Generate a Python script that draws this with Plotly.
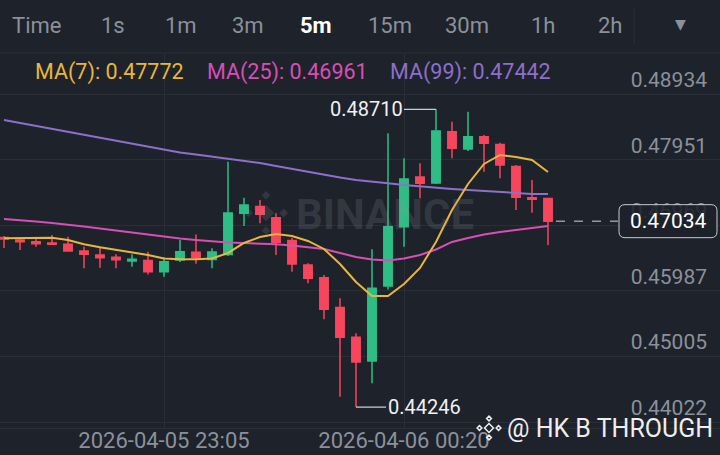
import plotly.graph_objects as go
import pandas as pd

# ---------------- data ----------------
times = pd.date_range("2026-04-05 22:15", periods=35, freq="5min")

opens = [0.46789, 0.46752, 0.46726, 0.46707, 0.46687, 0.46587, 0.46527, 0.46492, 0.46437, 0.46444,
         0.46276, 0.46452, 0.46567, 0.46459, 0.46534, 0.47152, 0.47254, 0.47086, 0.46744, 0.46377,
         0.46186, 0.45740, 0.45293, 0.44937, 0.46062, 0.46951, 0.47696, 0.47606, 0.48375, 0.48116,
         0.48300, 0.48183, 0.47854, 0.47386, 0.47374]
highs = [0.46812, 0.46777, 0.46786, 0.46827, 0.46801, 0.46651, 0.46651, 0.46537, 0.46537, 0.46576,
         0.46492, 0.46752, 0.46834, 0.46627, 0.47925, 0.47386, 0.47351, 0.47152, 0.46782, 0.46402,
         0.46227, 0.45878, 0.45353, 0.46612, 0.48351, 0.47977, 0.47902, 0.48710, 0.48525, 0.48675,
         0.48326, 0.48210, 0.47876, 0.47651, 0.47377]
lows = [0.46632, 0.46602, 0.46651, 0.46677, 0.46579, 0.46327, 0.46336, 0.46327, 0.46351, 0.46234,
        0.46201, 0.46422, 0.46395, 0.46327, 0.46512, 0.46962, 0.47002, 0.46527, 0.46276, 0.46102,
        0.45563, 0.44402, 0.44246, 0.44603, 0.46009, 0.46651, 0.47377, 0.47591, 0.47977, 0.48086,
        0.47776, 0.47677, 0.47201, 0.47161, 0.46677]
closes = [0.46767, 0.46726, 0.46696, 0.46687, 0.46587, 0.46537, 0.46486, 0.46456, 0.46462, 0.46276,
          0.46426, 0.46576, 0.46489, 0.46572, 0.47156, 0.47276, 0.47137, 0.46717, 0.46392, 0.46177,
          0.45713, 0.45293, 0.44922, 0.46027, 0.46951, 0.47666, 0.47602, 0.48386, 0.48126, 0.48300,
          0.48201, 0.47876, 0.47392, 0.47362, 0.47034]

ma7 = [0.46777, 0.46777, 0.46786, 0.46786, 0.46752, 0.46687, 0.46642, 0.46602, 0.46567, 0.46527,
       0.46474, 0.46462, 0.46462, 0.46474, 0.46557, 0.46707, 0.46797, 0.46842, 0.46812, 0.46737,
       0.46617, 0.46392, 0.46122, 0.45912, 0.45912, 0.46092, 0.46332, 0.46722, 0.47201, 0.47591,
       0.47891, 0.48026, 0.47996, 0.47951, 0.47772]
ma25 = [0.47066, 0.47051, 0.47029, 0.47006, 0.46984, 0.46954, 0.46924, 0.46894, 0.46864, 0.46834,
        0.46797, 0.46774, 0.46752, 0.46729, 0.46714, 0.46707, 0.46699, 0.46687, 0.46669, 0.46647,
        0.46617, 0.46557, 0.46497, 0.46459, 0.46444, 0.46474, 0.46527, 0.46609, 0.46722, 0.46782,
        0.46834, 0.46872, 0.46902, 0.46932, 0.46961]
ma99 = [0.48551, 0.48506, 0.48461, 0.48416, 0.48371, 0.48326, 0.48281, 0.48236, 0.48191, 0.48146,
        0.48101, 0.48063, 0.48033, 0.48004, 0.47974, 0.47936, 0.47906, 0.47861, 0.47816, 0.47771,
        0.47726, 0.47689, 0.47651, 0.47621, 0.47602, 0.47576, 0.47554, 0.47539, 0.47516, 0.47501,
        0.47486, 0.47471, 0.47456, 0.47442, 0.47442]

price_ticks = [0.48934, 0.47951, 0.46969, 0.45987, 0.45005, 0.44022]
price_tick_labels = ["0.48934", "0.47951", "0.46969", "0.45987", "0.45005", "0.44022"]
time_ticks = ["2026-04-05 23:05", "2026-04-06 00:20"]
time_tick_labels = ["2026-04-05 23:05", "2026-04-06 00:20"]
intervals = ["Time", "1s", "1m", "3m", "5m", "15m", "30m", "1h", "2h"]
interval_x = [36, 113, 181, 248, 316, 390, 467, 543, 610]
ma_labels = ["MA(7): 0.47772", "MA(25): 0.46961", "MA(99): 0.47442"]
last_price = 0.47034
high_idx, low_idx = 27, 22

# ---------------- style ----------------
W, H = 720, 455
TOP, BOT = 53, 428
BG = "#1e222a"
GRID = "#2a2f37"
GRAY = "#8a919b"
GREEN = "#2ebd85"
RED = "#f6465d"
YEL = "#e8b63e"
PINK = "#d64fb6"
PURP = "#8c70c9"
FONT = "Roboto"


def py(y):
    return (BOT - y) / (BOT - TOP)


def px(x):
    return x / W


fig = go.Figure()
fig.add_trace(go.Candlestick(
    x=times, open=opens, high=highs, low=lows, close=closes,
    increasing=dict(line=dict(color=GREEN, width=1.5), fillcolor=GREEN),
    decreasing=dict(line=dict(color=RED, width=1.5), fillcolor=RED),
    whiskerwidth=0, hoverinfo="skip", showlegend=False))
for vals, col in [(ma99, PURP), (ma25, PINK), (ma7, YEL)]:
    fig.add_trace(go.Scatter(x=times, y=vals, mode="lines",
                             line=dict(color=col, width=2), hoverinfo="skip", showlegend=False))

ann = []
# header
for lab, xx in zip(intervals, interval_x):
    sel = lab == "5m"
    ann.append(dict(x=px(xx), y=py(25), xref="paper", yref="paper", xanchor="center", yanchor="middle",
                    text=f"<b>{lab}</b>" if sel else lab, showarrow=False,
                    font=dict(family=FONT, size=22, color="#ffffff" if sel else GRAY)))
ann.append(dict(x=px(680), y=py(24), xref="paper", yref="paper", xanchor="center", yanchor="middle",
                text="▼", showarrow=False, font=dict(family="DejaVu Sans", size=14, color=GRAY)))
# MA legend
for lab, xx, col in zip(ma_labels, [33, 205, 388], [YEL, PINK, PURP]):
    ann.append(dict(x=px(xx), y=py(72), xref="paper", yref="paper", text=lab, xanchor="left",
                    yanchor="middle", showarrow=False, font=dict(family=FONT, size=21.5, color=col)))
# watermark
ann.append(dict(x=px(385), y=py(214), xref="paper", yref="paper", xanchor="center", yanchor="middle",
                text="<b>BINANCE</b>", showarrow=False,
                font=dict(family=FONT, size=42, color="rgba(140,148,160,0.2)")))
# high / low
ann.append(dict(x=times[high_idx], y=highs[high_idx], xref="x", yref="y", text=f"{highs[high_idx]:.5f}",
                showarrow=True, ax=-70, ay=0, arrowhead=0, arrowwidth=1.2, arrowcolor="#c9cdd3",
                standoff=0, font=dict(family=FONT, size=20, color="#f0f1f3")))
ann.append(dict(x=times[low_idx], y=lows[low_idx], xref="x", yref="y", text=f"{lows[low_idx]:.5f}",
                showarrow=True, ax=68, ay=0, arrowhead=0, arrowwidth=1.2, arrowcolor="#c9cdd3",
                standoff=0, font=dict(family=FONT, size=20, color="#f0f1f3")))
# last price box text
ann.append(dict(x=1, y=last_price, xref="paper", yref="y", xshift=-52, xanchor="center", yanchor="middle",
                text=f"{last_price:.5f}", showarrow=False, font=dict(family=FONT, size=21, color="#ffffff")))
# bottom-right signature
ann.append(dict(x=px(505), y=py(428), xref="paper", yref="paper", text="@ HK B THROUGH", xanchor="left",
                yanchor="middle", showarrow=False, font=dict(family=FONT, size=25, color="#eeeeee")))


def logo(cx, cy, s):
    parts = []
    for dx, dy, r in [(0, 0, 0.32), (-0.68, 0, 0.17), (0.68, 0, 0.17), (0, 0.68, 0.17), (0, -0.68, 0.17)]:
        x0, y0, rr = (cx + dx * s), (cy + dy * s), r * s
        parts.append(f"M {x0 - rr},{y0} L {x0},{y0 + rr} L {x0 + rr},{y0} L {x0},{y0 - rr} Z")
    return " ".join(parts)


shapes = [
    dict(type="line", xref="paper", yref="paper", x0=0, x1=1, y0=1, y1=1, line=dict(color=GRID, width=1)),
    dict(type="line", xref="paper", yref="paper", x0=px(634), x1=px(634), y0=py(8), y1=py(44),
         line=dict(color=GRID, width=1)),
    dict(type="line", xref="paper", yref="y", x0=px(556), x1=px(618), y0=last_price, y1=last_price,
         line=dict(color="#d0d3d8", width=1, dash="dash")),
    dict(type="path", xref="paper", yref="y", xsizemode="pixel", ysizemode="pixel", xanchor=1,
         yanchor=last_price, layer="above",
         path="M -95,-16.5 L -9,-16.5 Q -3,-16.5 -3,-10.5 L -3,10.5 Q -3,16.5 -9,16.5 L -95,16.5 "
              "Q -101,16.5 -101,10.5 L -101,-10.5 Q -101,-16.5 -95,-16.5 Z",
         fillcolor="rgba(30,34,42,0.88)", line=dict(color="#c5c9cf", width=1)),
    dict(type="path", xref="paper", yref="paper", xsizemode="pixel", ysizemode="pixel", xanchor=px(266),
         yanchor=py(213), path=logo(0, 0, 26), fillcolor="rgba(140,148,160,0.18)", line=dict(width=0)),
    dict(type="path", xref="paper", yref="paper", xsizemode="pixel", ysizemode="pixel", xanchor=px(489),
         yanchor=py(428), path=logo(0, 0, 14), fillcolor="rgba(0,0,0,0)", line=dict(color="#eeeeee", width=1.5)),
]

fig.update_layout(
    width=W, height=H, paper_bgcolor=BG, plot_bgcolor=BG,
    margin=dict(l=0, r=0, t=TOP, b=H - BOT, pad=0),
    showlegend=False, hovermode=False, dragmode=False,
    annotations=ann, shapes=shapes,
    xaxis=dict(type="date", range=["2026-04-05 22:13:45", "2026-04-06 01:58:45"],
               rangeslider=dict(visible=False), tickmode="array", tickvals=time_ticks,
               ticktext=time_tick_labels, showgrid=True, gridcolor=GRID, gridwidth=1,
               showline=True, linecolor=GRID, ticks="", zeroline=False, automargin=False,
               ticklabelstandoff=-7,
               tickfont=dict(family=FONT, size=22, color=GRAY)),
    yaxis=dict(range=[0.43933, 0.49555], side="right", tickmode="array", tickvals=price_ticks,
               ticktext=price_tick_labels, ticklabelposition="inside top", showgrid=True,
               gridcolor=GRID, gridwidth=1, zeroline=False, ticks="", automargin=False,
               ticklabelstandoff=10, tickfont=dict(family=FONT, size=21, color=GRAY)),
    boxgap=0.25,
)
fig.write_html("out.html", config={"displayModeBar": False},
               post_script="document.body.style.margin='0';document.body.style.padding='0';"
                           "document.body.style.background='" + BG + "';")
